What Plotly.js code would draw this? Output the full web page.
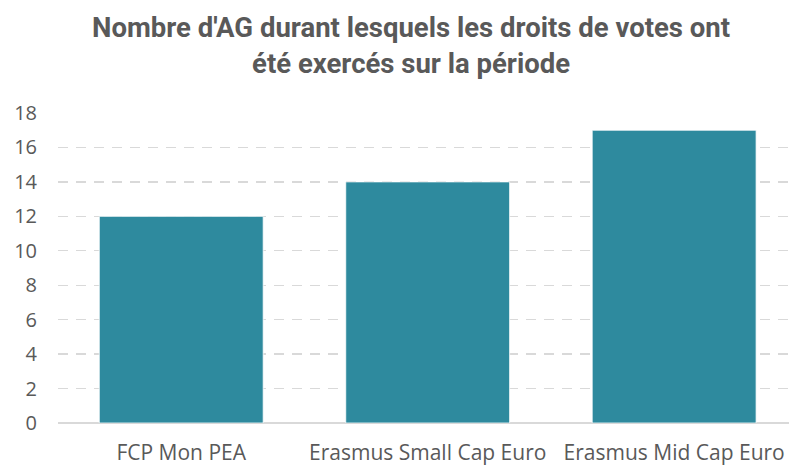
<!DOCTYPE html>
<html>
<head>
<meta charset="utf-8">
<script src="https://cdn.plot.ly/plotly-3.0.1.min.js"></script>
<style>html,body{margin:0;padding:0;background:#fff;}#chart{width:789px;height:467px;}</style>
</head>
<body>
<div id="chart"></div>
<script>
const categories = ["FCP Mon PEA", "Erasmus Small Cap Euro", "Erasmus Mid Cap Euro"];
const values = [12, 14, 17];
const yTicks = [0, 2, 4, 6, 8, 10, 12, 14, 16, 18];
const titleText = "Nombre d'AG durant lesquels les droits de votes ont<br>été exercés sur la période";

const TICKFONT = "'Open Sans', sans-serif";
const TITLEFONT = "Roboto, sans-serif";

Plotly.newPlot('chart', [{
  type: 'bar',
  x: categories,
  y: values,
  marker: {color: '#2E8A9E', line: {color: '#FFFFFF', width: 0.8}},
  hoverinfo: 'skip'
}], {
  width: 789, height: 467,
  margin: {l: 58, r: 0, t: 113, b: 44},
  paper_bgcolor: '#fff', plot_bgcolor: '#fff',
  bargap: 0.335,
  title: {
    text: titleText,
    font: {family: TITLEFONT, size: 27.5, color: '#595959', weight: 'bold'},
    x: 0.521, xanchor: 'center', xref: 'container',
    y: 0.92, yanchor: 'middle', yref: 'container'
  },
  xaxis: {
    type: 'category',
    range: [-0.5, 2.466],
    showgrid: false, showline: false, zeroline: false,
    tickfont: {family: TICKFONT, size: 21, color: '#595959'},
    ticks: '', ticklabelstandoff: 15
  },
  yaxis: {
    range: [0, 18],
    tickvals: yTicks,
    showgrid: true, gridcolor: '#D9D9D9', griddash: '10px,8px', gridwidth: 1.3,
    zeroline: true, zerolinecolor: '#D9D9D9', zerolinewidth: 1.3,
    showline: false,
    tickfont: {family: TICKFONT, size: 20, color: '#595959'},
    ticks: '', ticklabelstandoff: 20
  },
  showlegend: false
}, {staticPlot: true, displayModeBar: false});
</script>
</body>
</html>
